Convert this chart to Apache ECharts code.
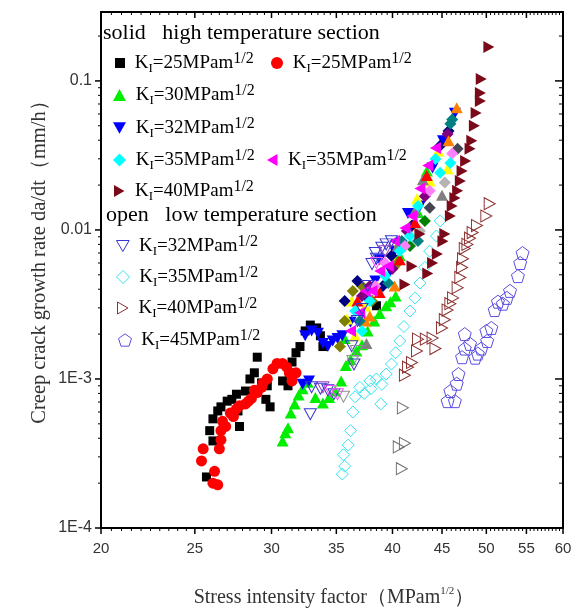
<!DOCTYPE html>
<html><head><meta charset="utf-8">
<script src="https://cdn.jsdelivr.net/npm/echarts@6/dist/echarts.min.js"></script>
<style>html,body{margin:0;padding:0;background:#fff}#c{width:573px;height:611px}</style>
</head><body><div id="c"></div>
<script>
// ---- axis ranges & tick labels ----
const X_MIN = 20, X_MAX = 60, Y_MIN = 1e-4, Y_MAX = 0.29;
const xTickLabels = [20, 25, 30, 35, 40, 45, 50, 55, 60];
const xMinorStep = 0.5;
const yDecades = [1e-4, 1e-3, 1e-2, 1e-1];
const yMantissas = [1, 2, 3, 4, 5, 6, 7, 8, 9];
const yTickLabels = ['1E-4', '1E-3', '0.01', '0.1'];

// ---- legend label values ----
const legendK = {
  s25sq: '25', s25ci: '25', s30: '30', s32: '32', s35dia: '35', s35left: '35', s40: '40',
  o32: '32', o35: '35', o40: '40', o45: '45'
};

// ---- data: [K (MPa m^1/2), da/dt (mm/h)] ----
const solid25sq = [[25.7,2.2e-4],[26.1,3.84e-4],[25.9,4.5e-4],[26.1,5.4e-4],[26.4,6.1e-4],[26.6,6.5e-4],[27.0,7.1e-4],[27.3,7.3e-4],[27.6,7.9e-4],[27.8,4.8e-4],[27.7,6.1e-4],[28.2,8.3e-4],[28.5,1.0e-3],[28.8,1.1e-3],[29.0,1.4e-3],[29.3,9.4e-4],[29.6,7.3e-4],[29.9,6.5e-4],[29.7,9.0e-4],[30.8,9.7e-4],[31.2,9.0e-4],[31.3,1.1e-3],[31.5,1.3e-3],[31.8,1.5e-3],[32.1,1.65e-3],[32.5,2.1e-3],[32.9,2.3e-3],[33.4,2.2e-3],[33.7,1.95e-3],[33.9,1.65e-3],[38.5,3.1e-3]];
const solid25ci = [[25.4,2.82e-4],[25.5,3.4e-4],[26.2,2.4e-4],[26.1,2.0e-4],[26.4,1.95e-4],[26.5,3.4e-4],[26.6,3.9e-4],[26.6,4.5e-4],[26.7,5.2e-4],[27.2,5.9e-4],[27.6,6.3e-4],[28.2,6.8e-4],[28.6,7.4e-4],[29.0,8.1e-4],[29.3,8.8e-4],[29.4,9.4e-4],[29.7,1.0e-3],[30.1,1.17e-3],[30.4,1.27e-3],[30.8,1.27e-3],[31.1,1.2e-3],[31.3,1.1e-3],[31.8,1.1e-3],[31.5,9.7e-4],[27.8,6.6e-4],[28.4,7.1e-4],[26.9,4.8e-4],[27.4,5.6e-4],[28.8,8.4e-4]];
const solid30 = [[30.8,3.84e-4],[31.0,4.35e-4],[31.2,4.7e-4],[31.4,5.9e-4],[31.7,6.8e-4],[32.0,7.8e-4],[32.3,8.6e-4],[32.7,9.5e-4],[33.3,7.5e-4],[33.9,6.9e-4],[34.4,7.5e-4],[34.9,8.3e-4],[35.4,9.7e-4],[35.8,1.23e-3],[36.2,1.35e-3],[36.7,1.54e-3],[37.2,1.7e-3],[37.7,2.1e-3],[38.3,2.45e-3],[38.8,2.75e-3],[39.4,3.1e-3],[39.8,3.3e-3],[40.3,3.6e-3],[43.4,0.0249],[35.7,1.87e-3],[40.7,6.7e-3],[42.5,0.0131]];
const solid32 = [[32.5,1.95e-3],[33.0,2.1e-3],[33.5,2.03e-3],[33.9,1.73e-3],[34.3,1.65e-3],[34.7,1.8e-3],[35.1,1.87e-3],[35.5,1.95e-3],[32.3,9.2e-4],[32.8,9.7e-4],[36.2,2.4e-3],[37.7,3.34e-3],[38.8,6.3e-3],[39.8,5.3e-3],[41.5,0.0129],[44.0,0.026],[45.1,0.0396],[46.4,0.0607],[38.4,4.55e-3],[40.2,7.23e-3],[42.7,0.0145]];
const solid35dia = [[37.2,2.1e-3],[39.3,4.9e-3],[40.7,7.23e-3],[44.3,0.0299],[45.9,0.0281],[42.5,0.0145],[37.9,3.34e-3],[36.6,2.86e-3],[41.7,9.1e-3],[44.8,0.0242]];
const solid35left = [[37.0,2.78e-3],[38.1,3.9e-3],[39.6,5.73e-3],[41.2,0.0103],[42.7,0.019],[44.3,0.0355],[38.8,5.31e-3],[36.2,2.1e-3],[41.9,0.0124],[37.5,3.9e-3],[40.2,8.44e-3],[43.5,0.0271]];
const solid40 = [[50.3,0.169],[49.4,0.103],[49.3,0.083],[49.3,0.0734],[48.8,0.061],[48.6,0.05],[48.3,0.0396],[48.1,0.035],[47.6,0.029],[47.2,0.0249],[47.0,0.0213],[46.7,0.0183],[46.4,0.0164],[46.1,0.0145],[45.9,0.0124],[45.3,0.0094],[45.1,0.0084],[44.5,0.0069],[44.0,0.006],[43.5,0.0051],[41.9,0.0057],[41.2,0.0043],[42.7,0.0094]];
const open32 = [[32.9,5.8e-4],[33.0,8.8e-4],[33.7,8.6e-4],[34.3,8.4e-4],[34.8,7.9e-4],[36.3,1.66e-3],[36.5,1.25e-3],[36.8,2.45e-3],[37.2,2.95e-3],[37.7,4.2e-3],[38.1,5.9e-3],[38.4,7.0e-3],[38.5,6.4e-3],[39.0,7.6e-3],[39.4,8.0e-3],[39.9,8.4e-3]];
const open35 = [[35.5,2.3e-4],[35.7,2.6e-4],[35.6,3.1e-4],[36.0,3.6e-4],[36.2,4.5e-4],[36.4,6.0e-4],[36.6,7.6e-4],[37.0,8.8e-4],[37.4,8.0e-4],[38.0,8.6e-4],[37.9,9.7e-4],[38.5,1.0e-3],[39.0,9.2e-4],[38.9,6.8e-4],[39.4,1.08e-3],[39.9,1.26e-3],[40.3,1.5e-3],[40.7,1.8e-3],[41.1,2.25e-3],[41.7,2.86e-3],[42.2,3.5e-3],[42.7,4.4e-3],[43.2,5.6e-3],[43.7,7.2e-3],[44.4,9.1e-3],[44.8,0.0115]];
const open40 = [[50.4,0.015],[50.0,0.0124],[48.9,0.0107],[48.4,0.0096],[48.1,0.0088],[47.8,0.008],[47.5,0.0075],[47.3,0.0064],[47.2,0.0056],[47.0,0.0048],[46.7,0.0041],[46.2,0.0035],[45.9,0.0032],[45.6,0.0029],[45.3,0.0025],[45.0,0.0022],[44.0,0.00188],[43.3,0.00185],[42.5,0.00185],[44.3,0.0016],[42.4,0.00154],[41.9,0.00129],[41.5,0.0012],[41.2,0.00106]];
const open40gray = [[41.0,6.4e-4],[41.2,3.7e-4],[40.6,3.5e-4],[40.9,2.5e-4]];
const open45 = [[54.5,0.007],[54.2,0.006],[53.9,0.0049],[52.9,0.0039],[52.5,0.0035],[52.0,0.0032],[51.4,0.0033],[51.0,0.0029],[50.6,0.0022],[50.1,0.0018],[50.0,0.0021],[49.4,0.0016],[49.0,0.00148],[48.7,0.00139],[48.1,0.00172],[47.5,0.002],[47.5,0.0016],[47.2,0.0014],[46.8,0.00108],[46.6,0.00093],[45.9,0.00083],[45.6,0.00071],[46.4,0.00071]];
// other specimens in the high-temperature band (not in legend)
const yellowTri = [[35.9,2.53e-3],[37.5,3.09e-3],[38.6,4.21e-3],[40.2,6.0e-3],[42.4,0.0162],[44.6,0.0339],[45.6,0.0257],[40.7,8.44e-3],[36.6,1.95e-3],[36.3,3.34e-3],[41.7,0.0107],[43.7,0.0213]];
const oliveDia = [[36.4,3.9e-3],[35.3,1.65e-3],[38.1,3.34e-3],[40.5,6.0e-3],[35.7,2.45e-3],[37.2,4.2e-3]];
const navyDia = [[36.8,4.55e-3],[35.7,3.34e-3],[39.1,4.2e-3],[45.7,0.0462],[39.9,6.7e-3],[41.9,0.0107],[44.8,0.0367]];
const purpleDia = [[37.2,3.6e-3],[40.0,5.5e-3],[41.4,9.85e-3],[45.6,0.044],[37.9,4.2e-3],[43.2,0.0168]];
const orangeTri = [[46.6,0.066],[37.9,2.65e-3],[40.2,4.2e-3],[37.5,2.45e-3],[45.7,0.0396]];
const tealDia = [[46.1,0.055],[45.9,0.0515],[39.6,4.4e-3],[42.5,8.44e-3],[37.0,2.45e-3],[40.9,8.44e-3]];
const grayTri = [[43.0,0.0217],[42.2,0.0134],[45.0,0.0171],[37.6,1.73e-3],[40.5,7.8e-3]];
const darkGrayDia = [[46.7,0.035],[43.7,0.0141]];
const lightGrayDia = [[45.3,0.0208],[42.7,9.85e-3]];
const redTri = [[43.4,0.0232],[38.8,3.8e-3],[40.7,6.3e-3],[36.8,3.34e-3],[42.2,0.0112]];
const greenDia = [[43.2,0.0115],[41.7,7.8e-3]];
const pinkDia = [[46.1,0.0326],[41.2,7.8e-3],[38.4,4.2e-3],[39.3,6.0e-3],[43.7,0.0183]];
const pinkOpenDown = [[38.5,6.0e-3],[34.5,8.3e-4],[35.1,7.9e-4]];
const purpleOpenDown = [[39.3,7.2e-3],[33.9,8.8e-4]];
const grayOpenDown = [[35.6,7.6e-4],[36.4,1.32e-3],[36.7,1.54e-3]];

// ---- symbols ----
const DOWN = 'path://M0,0 L100,0 L50,87 Z';
const LEFT = 'path://M87,0 L87,100 L0,50 Z';
const RIGHT = 'path://M0,0 L0,100 L87,50 Z';
const PENTA = 'path://M50,0 L97.6,34.5 L79.4,90.5 L20.6,90.5 L2.4,34.5 Z';
const HOLLOW = 'rgba(255,255,255,0)';

function filled(name, data, symbol, size, color) {
  return {name, type: 'scatter', data, symbol, symbolSize: size, itemStyle: {color, opacity: 1}, z: 3};
}
function hollow(name, data, symbol, size, color) {
  return {name, type: 'scatter', data, symbol, symbolSize: size,
    itemStyle: {color: HOLLOW, borderColor: color, borderWidth: 1, opacity: 1}, z: 3};
}

const series = [
  hollow('o35', open35, 'diamond', 12, '#33e6ee'),
  hollow('o40', open40, RIGHT, [11, 12], '#8b3030'),
  hollow('o40g', open40gray, RIGHT, [11, 12], '#707070'),
  hollow('o45', open45, PENTA, 13, '#5a4ee0'),
  filled('s25sq', solid25sq, 'rect', 9, '#000000'),
  filled('s25ci', solid25ci, 'circle', 11, '#ff0000'),
  filled('s30', solid30, 'triangle', [12, 11], '#00ee00'),
  filled('s32', solid32, DOWN, [12, 11], '#0000ff'),
  filled('yel', yellowTri, 'triangle', [12, 11], '#ffff00'),
  filled('oli', oliveDia, 'diamond', 12, '#808000'),
  filled('nav', navyDia, 'diamond', 12, '#000080'),
  filled('pur', purpleDia, 'diamond', 12, '#800080'),
  filled('ora', orangeTri, 'triangle', [12, 11], '#ff8000'),
  filled('tea', tealDia, 'diamond', 12, '#008080'),
  filled('gra', grayTri, 'triangle', [12, 11], '#808080'),
  filled('dgr', darkGrayDia, 'diamond', 12, '#444455'),
  filled('lgr', lightGrayDia, 'diamond', 12, '#b4b4b4'),
  filled('red', redTri, 'triangle', [12, 11], '#ff0000'),
  filled('gre', greenDia, 'diamond', 12, '#008000'),
  filled('pin', pinkDia, 'diamond', 12, '#ff80ff'),
  filled('s35dia', solid35dia, 'diamond', 12, '#00ffff'),
  filled('s35left', solid35left, LEFT, [11, 12], '#ff00ff'),
  filled('s40', solid40, RIGHT, [11, 12], '#7a0a1a'),
  hollow('o32', open32, DOWN, [12, 11], '#3535d0'),
  hollow('pod', pinkOpenDown, DOWN, [12, 11], '#ff50ff'),
  hollow('ppd', purpleOpenDown, DOWN, [12, 11], '#a040c0'),
  hollow('god', grayOpenDown, DOWN, [12, 11], '#909090')
];

// ---- tick marks (drawn through the axis scales) ----
const xTicks = [];
for (let v = X_MIN; v <= X_MAX + 1e-9; v += xMinorStep) xTicks.push(+v.toFixed(2));
const yTicks = [];
yDecades.forEach(d => yMantissas.forEach(m => { const v = +(m * d).toPrecision(3); if (v <= Y_MAX) yTicks.push(v); }));

series.push({
  type: 'custom', name: 'xticks', silent: true, clip: false, z: 10,
  data: xTicks.map(v => [v, Y_MIN]),
  renderItem: function (params, api) {
    const v = api.value(0);
    const pb = api.coord([v, Y_MIN]), pt = api.coord([v, Y_MAX]);
    const major = xTickLabels.indexOf(v) >= 0;
    const L = major ? 6 : 3, w = major ? 1.5 : 1;
    const ch = [
      {type: 'line', shape: {x1: pb[0], y1: pb[1], x2: pb[0], y2: pb[1] + L}, style: {stroke: '#000', lineWidth: w}},
      {type: 'line', shape: {x1: pt[0], y1: pt[1], x2: pt[0], y2: pt[1] + L}, style: {stroke: '#000', lineWidth: w}}
    ];
    if (major) ch.push({type: 'text', x: pb[0], y: pb[1] + 13,
      style: {text: String(v), fill: '#333', fontSize: 15, fontFamily: '"Liberation Sans", Arial, sans-serif',
        align: 'center', verticalAlign: 'top', textAlign: 'center', textVerticalAlign: 'top'}});
    return {type: 'group', children: ch};
  }
});
series.push({
  type: 'custom', name: 'yticks', silent: true, clip: false, z: 10,
  data: yTicks.map(v => [X_MIN, v]),
  renderItem: function (params, api) {
    const v = api.value(1);
    const pl = api.coord([X_MIN, v]), pr = api.coord([X_MAX, v]);
    const e = Math.log10(v);
    const major = Math.abs(e - Math.round(e)) < 1e-6;
    const Ll = major ? 6 : 3, Lr = major ? 8 : 4, w = major ? 1.5 : 1;
    return {type: 'group', children: [
      {type: 'line', shape: {x1: pl[0] - Ll, y1: pl[1], x2: pl[0], y2: pl[1]}, style: {stroke: '#000', lineWidth: w}},
      {type: 'line', shape: {x1: pr[0] - Lr, y1: pr[1], x2: pr[0], y2: pr[1]}, style: {stroke: '#000', lineWidth: w}}
    ]};
  }
});

// ---- legend ----
const SERIF = '"Liberation Serif", "Times New Roman", serif';
const rich = {
  k: {fontFamily: SERIF, fontSize: 19, lineHeight: 24, color: '#000', verticalAlign: 'middle'},
  s: {fontFamily: SERIF, fontSize: 13, lineHeight: 13, color: '#000', verticalAlign: 'bottom'},
  p: {fontFamily: SERIF, fontSize: 16, lineHeight: 15, color: '#000', verticalAlign: 'top'}
};
function lg(name, icon, style, left, cy, w, h) {
  return {
    show: true, orient: 'vertical', left: left, top: cy - 12, padding: 0, selectedMode: false,
    itemWidth: w, itemHeight: h,
    data: [{name: name, icon: icon, itemStyle: style}],
    formatter: n => '{k| K}{s|I}{k|=' + legendK[n] + 'MPam}{p|1/2}',
    textStyle: {rich: rich, fontFamily: SERIF, fontSize: 19, color: '#000'}
  };
}
const H = (c) => ({color: HOLLOW, borderColor: c, borderWidth: 1});
const legends = [
  lg('s25sq', 'rect', {color: '#000'}, 115, 63, 10, 10),
  lg('s25ci', 'circle', {color: '#ff0000'}, 271, 63, 12, 12),
  lg('s30', 'triangle', {color: '#00ee00'}, 113, 95, 13, 12),
  lg('s32', DOWN, {color: '#0000ff'}, 113, 128, 13, 12),
  lg('s35dia', 'diamond', {color: '#00ffff'}, 113, 160, 13, 13),
  lg('s35left', LEFT, {color: '#ff00ff'}, 267, 160, 12, 12),
  lg('s40', RIGHT, {color: '#7a0a1a'}, 114, 191, 12, 12),
  lg('o32', DOWN, H('#3535d0'), 116, 246, 13, 11),
  lg('o35', 'diamond', H('#33e6ee'), 116, 277, 13, 13),
  lg('o40', RIGHT, H('#8b3030'), 117, 308, 12, 12),
  lg('o45', PENTA, H('#5a4ee0'), 118, 340, 13, 13)
];

const axisLineStyle = {show: true, onZero: false, lineStyle: {color: '#000', width: 2}};
const option = {
  animation: false,
  backgroundColor: '#fff',
  grid: {left: 101, right: 10, top: 12, bottom: 83, containLabel: false},
  xAxis: [
    {type: 'log', logBase: 10, min: X_MIN, max: X_MAX, position: 'bottom', axisLine: axisLineStyle,
     axisTick: {show: false}, axisLabel: {show: false}, splitLine: {show: false}, minorTick: {show: false}},
    {type: 'log', logBase: 10, min: X_MIN, max: X_MAX, position: 'top', axisLine: axisLineStyle,
     axisTick: {show: false}, axisLabel: {show: false}, splitLine: {show: false}}
  ],
  yAxis: [
    {type: 'log', logBase: 10, min: Y_MIN, max: Y_MAX, position: 'left', axisLine: axisLineStyle,
     axisTick: {show: false}, splitLine: {show: false},
     axisLabel: {show: true, margin: 9, color: '#333', fontSize: 16, fontFamily: '"Liberation Sans", Arial, sans-serif',
       formatter: function (v) {
         const e = Math.log10(v);
         if (Math.abs(e - Math.round(e)) > 1e-6) return '';
         const i = yDecades.findIndex(d => Math.abs(Math.log10(d) - e) < 1e-6);
         return i >= 0 ? yTickLabels[i] : '';
       }}},
    {type: 'log', logBase: 10, min: Y_MIN, max: Y_MAX, position: 'right', axisLine: axisLineStyle,
     axisTick: {show: false}, axisLabel: {show: false}, splitLine: {show: false}}
  ],
  legend: legends,
  graphic: [
    {type: 'text', left: 103, top: 22, silent: true,
     style: {text: 'solid   high temperature section', fontFamily: SERIF, fontSize: 22, fill: '#000'}},
    {type: 'text', left: 106, top: 204, silent: true,
     style: {text: 'open   low temperature section', fontFamily: SERIF, fontSize: 22, fill: '#000'}},
    {type: 'text', x: 40, y: 257, rotation: Math.PI / 2, silent: true,
     style: {text: 'Creep crack growth rate da/dt（mm/h）', fontFamily: SERIF, fontSize: 20.5, fill: '#333',
       align: 'center', verticalAlign: 'middle', textAlign: 'center', textVerticalAlign: 'middle'}},
    {type: 'text', x: 334, y: 598, silent: true,
     style: {text: '{a|Stress intensity factor（MPam}{b|1/2}{a|）}', align: 'center', verticalAlign: 'middle',
       textAlign: 'center', textVerticalAlign: 'middle',
       rich: {a: {fontFamily: SERIF, fontSize: 20, lineHeight: 24, fill: '#333', color: '#333', verticalAlign: 'middle'},
              b: {fontFamily: SERIF, fontSize: 11, lineHeight: 11, fill: '#333', color: '#333', verticalAlign: 'top'}}}}
  ],
  series: series
};
const chart = echarts.init(document.getElementById('c'), null, {renderer: 'canvas'});
chart.setOption(option);
</script>
</body></html>
